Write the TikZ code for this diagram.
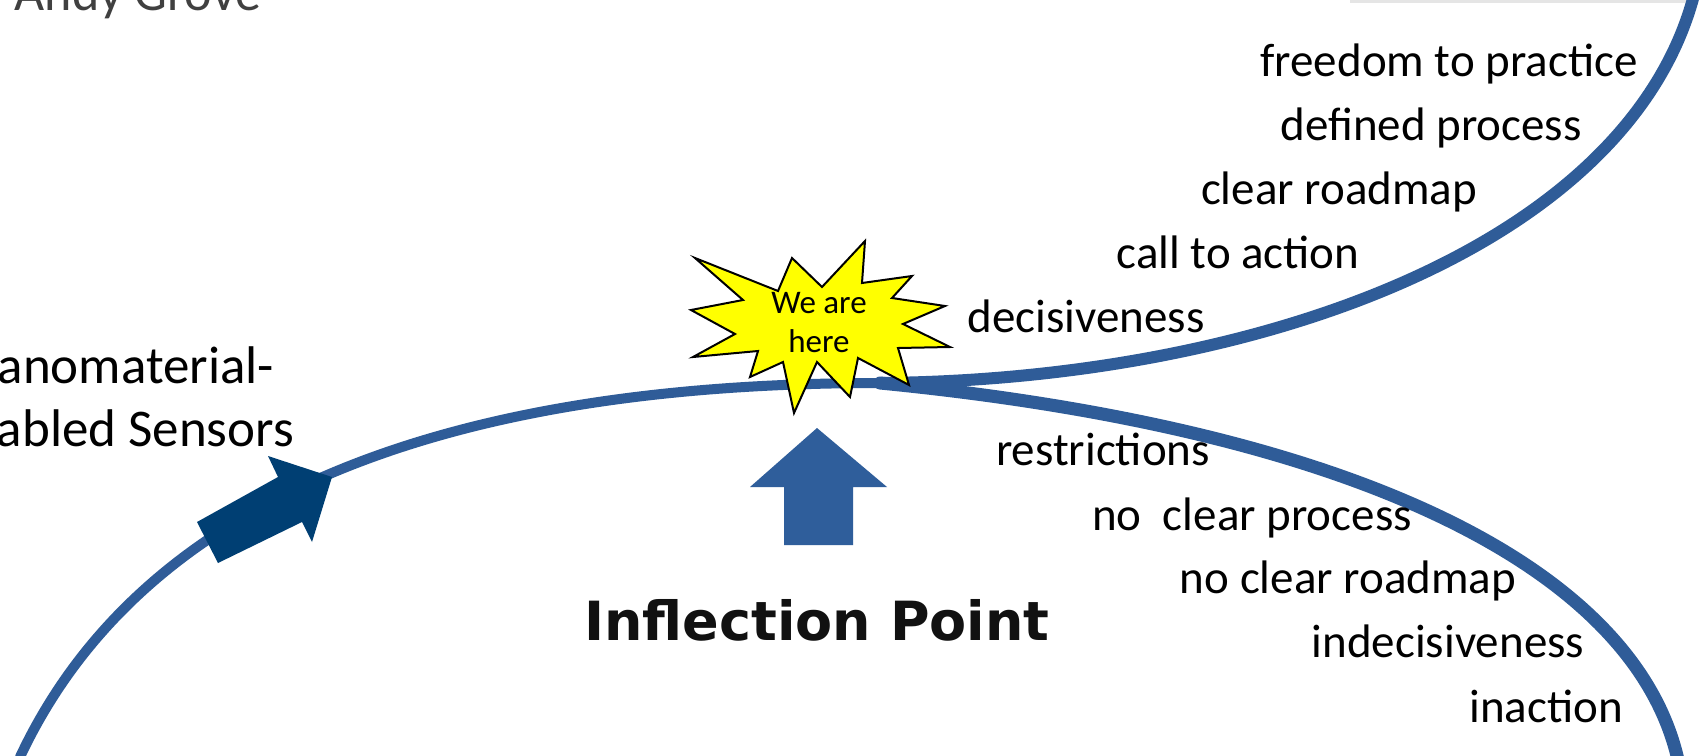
\documentclass[tikz,border=0pt]{standalone}
\usepackage{fontspec}
\setmainfont{Carlito}
\newfontfamily\titlefont{DejaVu Sans}
\usetikzlibrary{calc}
\definecolor{curveblue}{HTML}{2F5C98}
\definecolor{navyblue}{HTML}{003F73}
\definecolor{upblue}{HTML}{2F5E9B}
\definecolor{burstyellow}{HTML}{FFFF00}
\definecolor{titleblack}{HTML}{111111}
\definecolor{authorgray}{HTML}{404040}

\begin{document}
\begin{tikzpicture}[
        x=1pt, y=-1pt,
        every node/.style={inner sep=0pt, outer sep=0pt},
        listtext/.style={anchor=base, font=\fontsize{47}{57}\selectfont},
        sensortext/.style={anchor=base east, font=\fontsize{53}{64}\selectfont},
        curveline/.style={draw=curveblue, line cap=round}
    ]
        \useasboundingbox (0,0) rectangle (1705,755);
        \fill[white] (0,0) rectangle (1705,755);
        \draw[gray!20, line width=3pt] (1350,1) -- (1690,1);

        \coordinate (start) at (20,757);
        \coordinate (peak) at (880,383);
        \coordinate (topend) at (1694,-5);
        \coordinate (bottomend) at (1678,760);
        \draw[curveline, line width=10pt] (start) .. controls (150,480) and (480,383) .. (peak);
        \draw[curveline, line width=12pt] (peak) .. controls (1260,380) and (1628,245) .. (topend);
        \draw[curveline, line width=13pt] (peak) .. controls (1360,430) and (1635,570) .. (bottomend);

        \fill[navyblue] (197,522) -- (278,477) -- (268,456) -- (332,477)
            -- (312,542) -- (302,522) -- (218,563) -- cycle;

        \draw[fill=burstyellow, line width=2pt, line join=miter] (695,258) -- (778,291) -- (792,258)
            -- (822,287) -- (865,241) -- (862,283) -- (912,276) -- (892,298)
            -- (945,306) -- (903,324) -- (950,347) -- (898,348) -- (909,385)
            -- (858,358) -- (850,397) -- (817,362) -- (794,413) -- (783,362)
            -- (750,377) -- (758,351) -- (693,357) -- (735,334) -- (691,310)
            -- (743,300) -- cycle;
        \node[align=center, font=\fontsize{33}{39}\selectfont] (here) at (819,323) {We are\\here};

        \fill[upblue] (817,428) -- (887,487) -- (853,487) -- (853,545)
            -- (784,545) -- (784,487) -- (750,487) -- cycle;
        \node[anchor=base, text=titleblack, font=\titlefont\bfseries\fontsize{54}{64}\selectfont] (inflection) at (817,640) {Inflection Point};

        \node[anchor=base east, text=authorgray, font=\fontsize{52}{62}\selectfont] (author) at (261,10) {Andy Grove};
        \node[sensortext] (nanoline) at (274,383) {Nanomaterial-};
        \node[sensortext] (sensorline) at (294,446) {Enabled Sensors};

        \node[listtext] (freedom) at (1449,76) {freedom to practice};
        \node[listtext] (defined) at (1431,140) {defined process};
        \node[listtext] (roadmap) at (1339,204) {clear roadmap};
        \node[listtext] (action) at (1238,268) {call to action};
        \node[listtext] (decisive) at (1086,332) {decisiveness};

        \node[listtext] (restrict) at (1103,465) {restrictions};
        \node[listtext] (noprocess) at (1252,530) {no\ \ clear process};
        \node[listtext] (noroadmap) at (1348,593) {no clear roadmap};
        \node[listtext] (indecisive) at (1448,657) {indecisiveness};
        \node[listtext] (inaction) at (1546,722) {inaction};
    \end{tikzpicture}
\end{document}
